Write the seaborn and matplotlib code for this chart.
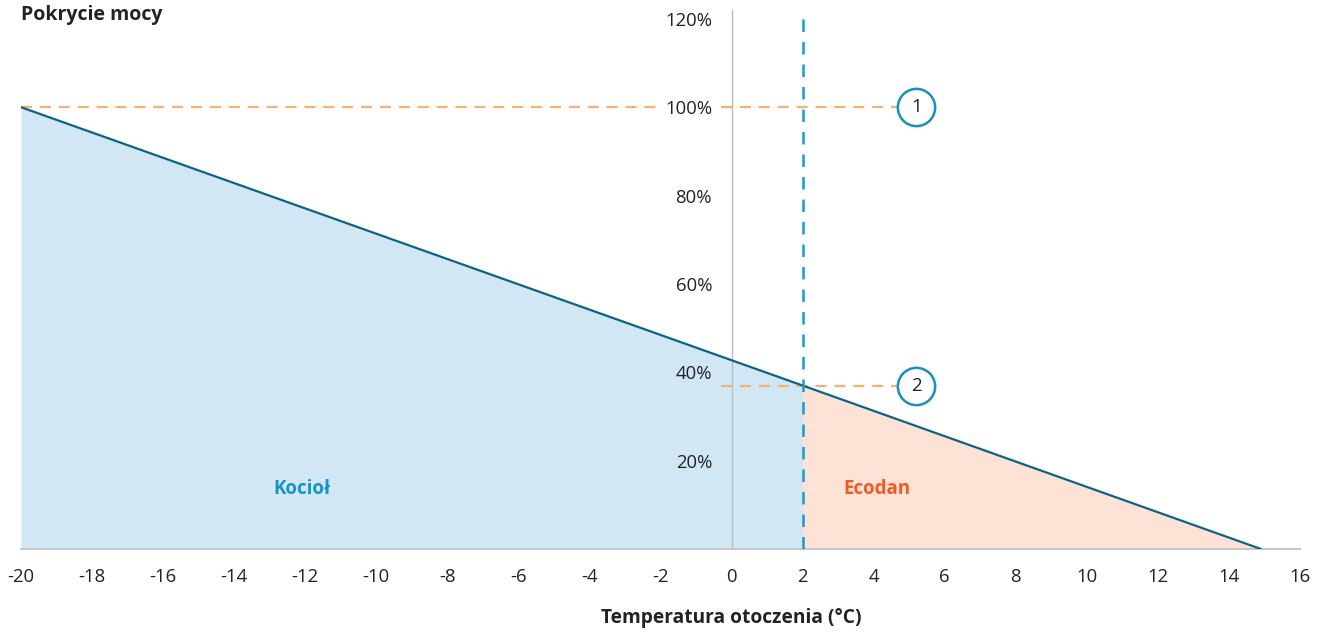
import numpy as np
import pandas as pd
import matplotlib
matplotlib.use("Agg")
import matplotlib.pyplot as plt
import seaborn as sns

# values
temperatures = [-20, 2, 14.9]
coverage = [100, 37.0, 0]
bivalent_temp = 2
marker_labels = ["1", "2"]
marker_levels = [100, 37.0]
marker_temp = 5.2
x_ticks = list(range(-20, 17, 2))
y_ticks = [20, 40, 60, 80, 100, 120]
y_tick_labels = ["20%", "40%", "60%", "80%", "100%", "120%"]

LINE = "#0b6486"
BLUE_FILL = "#d1e7f3"
ORANGE_FILL = "#fde2d5"
ORANGE_DASH = "#f5b274"
BLUE_DASH = "#1a9ad0"
TEXT = "#222222"

sns.set_theme(style="white")
plt.rcParams["font.family"] = ["Open Sans", "DejaVu Sans"]

df = pd.DataFrame({"temp": temperatures, "cov": coverage})

fig = plt.figure(figsize=(13.24, 6.34), dpi=100)
ax = fig.add_axes([21 / 1324, 85 / 634, (1300 - 21) / 1324, (549 - 10) / 634])
ax.set_axisbelow(False)

# filled areas: boiler left of bivalent point, heat pump right of it
ax.fill_between(df["temp"][:2], 0, df["cov"][:2], color=BLUE_FILL, lw=0, zorder=1)
ax.fill_between(df["temp"][1:], 0, df["cov"][1:], color=ORANGE_FILL, lw=0, zorder=1)

sns.lineplot(data=df, x="temp", y="cov", ax=ax, color=LINE, lw=1.6, zorder=4)

# guide lines (the 100% one is broken around its tick label)
dash = dict(color=ORANGE_DASH, lw=1.6, ls=(0, (5, 3.5)), zorder=3)
ax.plot([temperatures[0], -2.14], [marker_levels[0]] * 2, **dash)
ax.plot([-0.3, marker_temp], [marker_levels[0]] * 2, **dash)
ax.plot([-0.3, marker_temp], [marker_levels[1]] * 2, **dash)
ax.axvline(bivalent_temp, color=BLUE_DASH, lw=1.8, ls=(0, (5, 4)), zorder=5)

# numbered circles
ax.scatter([marker_temp] * 2, marker_levels, s=720, facecolor="white",
           edgecolor="#1a8fc0", linewidth=1.8, zorder=6, clip_on=False)
for lab, lev in zip(marker_labels, marker_levels):
    ax.text(marker_temp, lev, lab, ha="center", va="center", fontsize=13.5,
            color=TEXT, zorder=7)

ax.text(-12.1, 13.6, "Kocioł", ha="center", va="center", fontsize=13.5,
        fontweight="bold", color="#1594c8")
ax.text(4.1, 13.6, "Ecodan", ha="center", va="center", fontsize=13.5,
        fontweight="bold", color="#f05a28")

ax.set_xlim(-20, 16)
ax.set_ylim(0, 122)
ax.set_xticks(x_ticks)
ax.set_xticklabels([str(t) for t in x_ticks])
ax.set_yticks(y_ticks)
ax.set_yticklabels(y_tick_labels)
ax.tick_params(axis="x", length=0, pad=14, labelsize=13.3, colors=TEXT)
ax.tick_params(axis="y", length=0, pad=14, labelsize=13.3, colors=TEXT)

for s in ["top", "right"]:
    ax.spines[s].set_visible(False)
ax.spines["left"].set_position(("data", 0))
ax.spines["left"].set_color("#bcbcbc")
ax.spines["left"].set_linewidth(1.0)
ax.spines["bottom"].set_color("#c4c6cc")
ax.spines["bottom"].set_linewidth(1.4)

ax.set_xlabel("Temperatura otoczenia (°C)", fontsize=13.8, fontweight="bold",
              color=TEXT)
# x label is centred under the 0 °C axis, not under the whole plot
ax.xaxis.set_label_coords(20 / 36, -59 / 539)
ax.set_ylabel("")

fig.text(21 / 1324, 1 - 15 / 634, "Pokrycie mocy", ha="left", va="center",
         fontsize=14, fontweight="bold", color=TEXT)

fig.savefig("out.png", dpi=100)
